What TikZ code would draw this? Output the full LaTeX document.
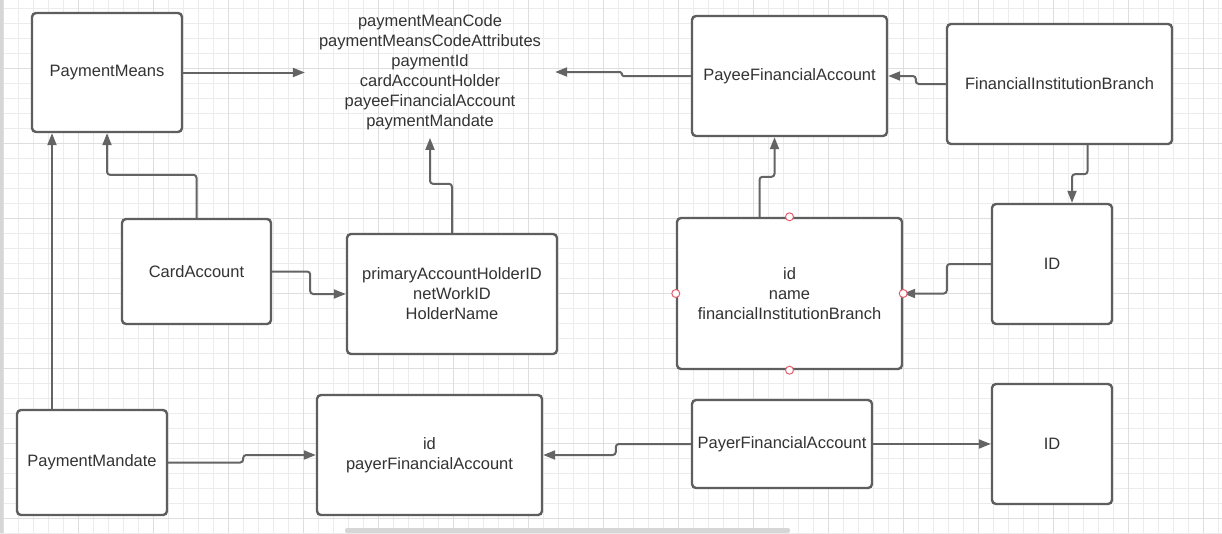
\documentclass[tikz,border=0pt]{standalone}
\usepackage{fontspec}
\setmainfont{Liberation Sans}
\usetikzlibrary{arrows.meta,calc}

\begin{document}
\begin{tikzpicture}[x=1pt,y=-1pt,
  entity/.style={draw=boxColor, line width=2.4pt, rounded corners=4pt, fill=white,
    align=center, text=textColor, font=\fontsize{16.5}{20}\selectfont, inner sep=0pt},
  label/.style={align=center, text=textColor, font=\fontsize{16.5}{20}\selectfont},
  link/.style={draw=lineColor, line width=2pt, rounded corners=3pt,
    -{Triangle[length=12pt,width=9pt]}},
  port/.style={circle, draw=portColor, fill=white, line width=1pt, minimum size=8pt, inner sep=0pt},
  gridMinor/.style={draw=minorColor, line width=0.8pt},
  gridMajor/.style={draw=majorColor, line width=0.9pt}
]

% Define colors for styling
\definecolor{boxColor}{RGB}{94,94,94}    % Border of the boxes
\definecolor{lineColor}{RGB}{100,100,100} % Connectors
\definecolor{textColor}{RGB}{51,51,51}   % Labels
\definecolor{portColor}{RGB}{226,96,112} % Small circles
\definecolor{minorColor}{RGB}{236,236,236} % Fine grid
\definecolor{majorColor}{RGB}{222,222,222} % Coarse grid
\definecolor{barColor}{RGB}{214,214,214} % Scroll bars

\useasboundingbox (0,0) rectangle (1222,533);
\fill[white] (0,0) rectangle (1222,533);

% Background grid
\foreach \gx in {3,18,...,1218} \draw[gridMinor] (\gx,0) -- (\gx,533);
\foreach \gy in {8,23,...,533} \draw[gridMinor] (0,\gy) -- (1222,\gy);
\foreach \gx in {3,78,...,1218} \draw[gridMajor] (\gx,0) -- (\gx,533);
\foreach \gy in {68,143,...,533} \draw[gridMajor] (0,\gy) -- (1222,\gy);
\fill[barColor] (0,0) rectangle (3,533);
\fill[barColor, rounded corners=2pt] (345,528) rectangle (790,533);

% Boxes
\node[entity, minimum width=150, minimum height=119] (pm) at (107,72.5) {PaymentMeans};
\node[label, inner xsep=14pt, inner ysep=8pt] (means) at (430,72)
  {paymentMeanCode\\paymentMeansCodeAttributes\\paymentId\\cardAccountHolder\\payeeFinancialAccount\\paymentMandate};
\node[entity, minimum width=195, minimum height=120] (pfa) at (789.5,76) {PayeeFinancialAccount};
\node[entity, minimum width=225, minimum height=120] (fib) at (1059.5,84) {FinancialInstitutionBranch};
\node[entity, minimum width=149, minimum height=105] (ca) at (196.5,271.5) {CardAccount};
\node[entity, minimum width=210, minimum height=120] (pah) at (452,294) {primaryAccountHolderID\\netWorkID\\HolderName};
\node[entity, minimum width=225, minimum height=151] (iname) at (789.5,293.5) {id\\name\\financialInstitutionBranch};
\node[entity, minimum width=120, minimum height=120] (idt) at (1052,264) {ID};
\node[entity, minimum width=150, minimum height=105] (pmd) at (92,462.5) {PaymentMandate};
\node[entity, minimum width=225, minimum height=120] (ipa) at (429.5,455) {id\\payerFinancialAccount};
\node[entity, minimum width=180, minimum height=88] (payer) at (782,444) {PayerFinancialAccount};
\node[entity, minimum width=120, minimum height=120] (idb) at (1052,444) {ID};

% Connectors
\draw[link] (pm.east) -- (pm.east -| means.west);
\draw[link, rounded corners=1.5pt] (pfa.west) -- ++(-69,0) |- (means.east);
\draw[link] (fib.west) -- ++(-30,0) |- (pfa.east);
\draw[link] ([xshift=28pt]fib.south) -- ++(0,29) -| ([xshift=20pt]idt.north);
\draw[link] (ca.north) -- ++(0,-43) -| (pm.south);
\draw[link] ([xshift=-40pt]pmd.north) -- ([xshift=-40pt]pmd.north |- pm.south);
\draw[link] (ca.east) -- ++(38,0) |- (pah.west);
\draw[link] (pah.north) -- ++(0,-49) -| (means.south);
\draw[link] ([xshift=-30pt]iname.north) -- ++(0,-40) -| ([xshift=-15pt]pfa.south);
\draw[link] (idt.west) -- ++(-44,0) |- (iname.east);
\draw[link] (pmd.east) -- ++(75,0) |- (ipa.west);
\draw[link] (payer.west) -- ++(-75,0) |- (ipa.east);
\draw[link] (payer.east) -- (idb.west);

% Connection points
\foreach \side in {north,south,east,west} \node[port] at (iname.\side) {};

\end{tikzpicture}
\end{document}
